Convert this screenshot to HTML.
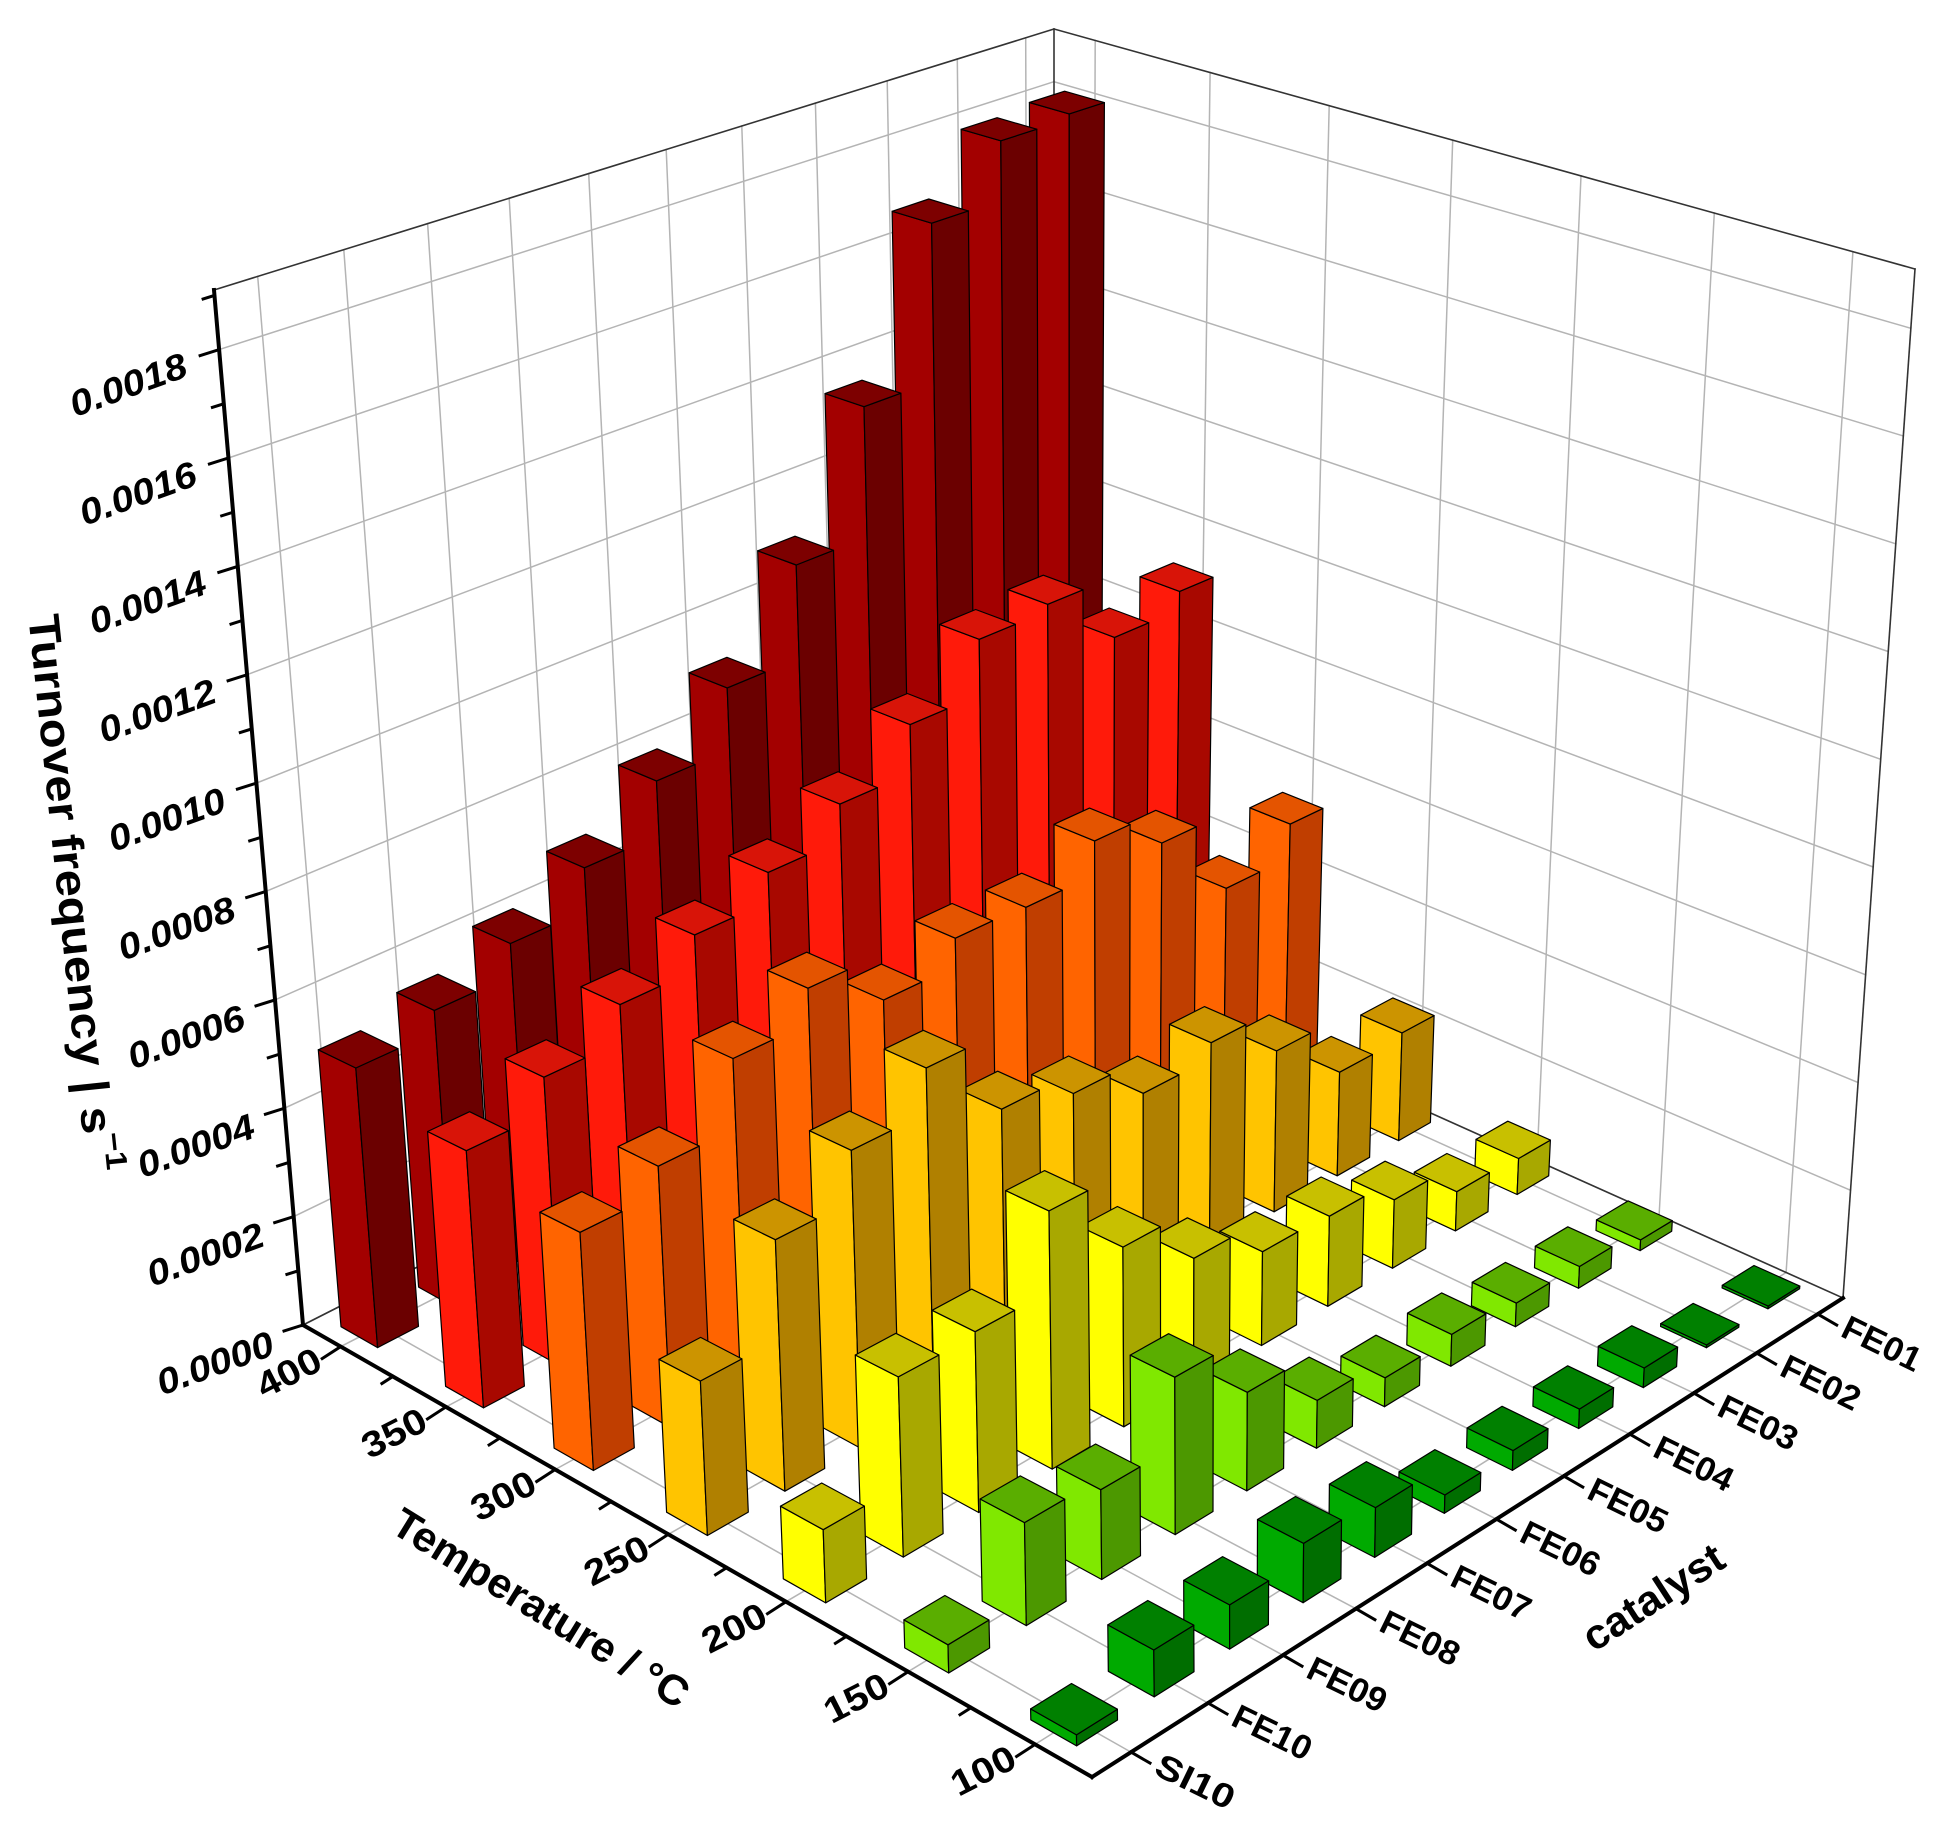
<!DOCTYPE html>
<html><head><meta charset="utf-8"><title>Turnover frequency 3D bars</title>
<style>
html,body{margin:0;padding:0;background:#fff;}
svg{display:block;font-family:"Liberation Sans",sans-serif;}
</style></head>
<body>
<svg id="chart" width="1935" height="1826" viewBox="0 0 1935 1826" xmlns="http://www.w3.org/2000/svg">
<rect width="1935" height="1826" fill="#fff"/>
<g id="grid"></g>
<g id="bars"></g>
<g id="axes"></g>
<text transform="translate(72,893) rotate(84)" text-anchor="middle" dominant-baseline="central" font-size="44" font-weight="bold" textLength="560" lengthAdjust="spacingAndGlyphs">Turnover frequency | s<tspan font-size="30" dy="-16">−1</tspan></text>
<text transform="translate(541,1608) rotate(31.7)" text-anchor="middle" dominant-baseline="central" font-size="42" font-weight="bold" textLength="340" lengthAdjust="spacingAndGlyphs">Temperature / °C</text>
<text transform="translate(1653,1597) rotate(-33)" text-anchor="middle" dominant-baseline="central" font-size="42" font-weight="bold" textLength="160" lengthAdjust="spacingAndGlyphs">catalyst</text>
</svg>
<script>
const temps = [400, 350, 300, 250, 200, 150, 100];
const catalysts = ['SI10','FE10','FE09','FE08','FE07','FE06','FE05','FE04','FE03','FE02','FE01'];
const tof400 = [0.00051,0.000549,0.000608,0.000687,0.000791,0.000911,0.001094,0.001353,0.00167,0.00179,0.0018];
const tof350 = [0.000457,0.000521,0.000587,0.000651,0.000705,0.000773,0.000866,0.000974,0.000987,0.000866,0.000903];
const tof300 = [0.000412,0.000459,0.000583,0.000645,0.00056,0.000611,0.000607,0.000672,0.000608,0.000459,0.000525];
const tof250 = [0.00026,0.00043,0.000517,0.000596,0.000458,0.000421,0.000356,0.000385,0.000305,0.000199,0.00021];
const tof200 = [0.00012,0.0003,0.000306,0.000444,0.000314,0.000226,0.000169,0.000165,0.000127,0.000074,0.000069];
const tof150 = [0.000045,0.000167,0.000148,0.000264,0.000168,0.000083,0.000051,0.000057,0.000043,0.00004,0.00002];
const tof100 = [0.000017,0.000074,0.000071,0.000097,0.000083,0.000031,0.000034,0.000034,0.000035,0.000005,0.000005];
const zTickLabels = ['0.0000','0.0002','0.0004','0.0006','0.0008','0.0010','0.0012','0.0014','0.0016','0.0018'];

const series = [tof400, tof350, tof300, tof250, tof200, tof150, tof100];
const colors = [
  ['#a30000','#6b0000','#7d0000'],
  ['#ff1a0a','#a80800','#d81408'],
  ['#ff6400','#c03e00','#e45400'],
  ['#ffc400','#b08000','#cc9400'],
  ['#ffff00','#a8a800','#c8c000'],
  ['#80e800','#4c9800','#5aae00'],
  ['#00aa00','#006e00','#008000']
];
const ZMAX = 0.00191;
const NS = 'http://www.w3.org/2000/svg';
const C = {L0:[303,1325],F0:[1092,1777],R0:[1843,1298],B0:[1054,944],
           L1:[214,290],F1:[1075,530],R1:[1915,269],B1:[1054,29]};
function fs(u){return u*0.88/(1-0.12*u);}
function gc(v){return v*1.15/(1+0.15*v);}
function uT(T){return 0.054+0.147*(400-T)/50;}
function vI(i){return 0.0455+0.0916*i;}
function bil(a,b,c,d,s,t){
  return [0,1].map(k=>(1-s)*(1-t)*a[k]+s*(1-t)*b[k]+s*t*c[k]+(1-s)*t*d[k]);
}
function proj(s,c,z){
  const p0=bil(C.L0,C.F0,C.R0,C.B0,s,c), p1=bil(C.L1,C.F1,C.R1,C.B1,s,c);
  const w=z/ZMAX;
  return [p0[0]+(p1[0]-p0[0])*w, p0[1]+(p1[1]-p0[1])*w];
}
function mk(tag,attrs,parent){const e=document.createElementNS(NS,tag);for(const k in attrs)e.setAttribute(k,attrs[k]);parent.appendChild(e);return e;}
function line(p,q,stroke,w,parent,name){
  const e=mk('line',{x1:p[0].toFixed(1),y1:p[1].toFixed(1),x2:q[0].toFixed(1),y2:q[1].toFixed(1),stroke:stroke,'stroke-width':w,'stroke-linecap':'square'},parent);
  
  
  return e;
}
const grid=document.getElementById('grid'), bars=document.getElementById('bars'), axes=document.getElementById('axes');
const GC='#b4b4b4';
temps.forEach(T=>{const s=fs(uT(T));line(proj(s,0,0),proj(s,1,0),GC,1.5,grid,'floor-grid-temp');});
catalysts.forEach((n,i)=>{const c=gc(vI(i));line(proj(0,c,0),proj(1,c,0),GC,1.5,grid,'floor-grid-catalyst');});
catalysts.forEach((n,i)=>{const c=gc(vI(i));line(proj(0,c,0),proj(0,c,ZMAX),GC,1.5,grid,'left-wall-grid-vertical');});
temps.forEach(T=>{const s=fs(uT(T));line(proj(s,1,0),proj(s,1,ZMAX),GC,1.5,grid,'right-wall-grid-vertical');});
zTickLabels.forEach(lbl=>{const z=parseFloat(lbl);
  line(proj(0,0,z),proj(0,1,z),GC,1.5,grid,'left-wall-grid-horizontal');
  line(proj(0,1,z),proj(1,1,z),GC,1.5,grid,'right-wall-grid-horizontal');});
line(proj(0,0,ZMAX),proj(0,1,ZMAX),'#333',1.6,grid,'left-wall-top-edge');
line(proj(0,1,ZMAX),proj(1,1,ZMAX),'#333',1.6,grid,'right-wall-top-edge');
line(proj(0,1,0),proj(0,1,ZMAX),'#333',1.6,grid,'back-corner-edge');
line(proj(1,1,0),proj(1,1,ZMAX),'#333',1.6,grid,'right-wall-edge');
line(proj(0,0,0),proj(0,1,0),'#333',1.6,grid,'left-wall-bottom-edge');
line(proj(0,1,0),proj(1,1,0),'#333',1.6,grid,'right-wall-bottom-edge');

const HU=0.026, HV=0.024;
const items=[];
temps.forEach((T,t)=>catalysts.forEach((n,i)=>items.push({t,i,key:fs(uT(T))-gc(vI(i))})));
items.sort((a,b)=>a.key-b.key);
function poly(pts,fill,parent,name){
  const e=mk('polygon',{points:pts.map(p=>p[0].toFixed(1)+','+p[1].toFixed(1)).join(' '),fill:fill,stroke:'#000','stroke-width':1.2,'stroke-linejoin':'round'},parent);
  
  
  return e;
}
items.forEach(({t,i})=>{
  const val=series[t][i];
  const u=uT(temps[t]), v=vI(i);
  const s0=fs(u-HU), s1=fs(u+HU), c0=gc(v-HV), c1=gc(v+HV);
  const g=mk('g',{},bars);
  
  
  const col=colors[t];
  poly([proj(s0,c0,0),proj(s1,c0,0),proj(s1,c0,val),proj(s0,c0,val)],col[0],g,'bar-left-face');
  poly([proj(s1,c0,0),proj(s1,c1,0),proj(s1,c1,val),proj(s1,c0,val)],col[1],g,'bar-right-face');
  poly([proj(s0,c0,val),proj(s1,c0,val),proj(s1,c1,val),proj(s0,c1,val)],col[2],g,'bar-top-face');
});

line(proj(0,0,0),proj(0,0,ZMAX),'#000',4,axes,'z-axis-line');
line(C.L0,C.F0,'#000',4,axes,'temperature-axis-line');
line(C.F0,C.R0,'#000',4,axes,'catalyst-axis-line');
function txt(str,x,y,rot,size,opts,name){
  const e=mk('text',{transform:'translate('+x.toFixed(1)+','+y.toFixed(1)+') rotate('+rot+')','text-anchor':'middle','dominant-baseline':'central','font-size':size,'font-weight':'bold'},axes);
  if(opts.italic)e.setAttribute('font-style','italic');
  if(opts.len){e.setAttribute('textLength',opts.len);e.setAttribute('lengthAdjust','spacingAndGlyphs');}
  e.textContent=str;
  
  
  return e;
}
for(let k=0;k<=19;k++){
  const z=k*0.0001; const p=proj(0,0,z); const len=(k%2===0)?20:12;
  line(p,[p[0]-0.95*len,p[1]+0.3*len],'#000',3,axes,'z-axis-tick');
}
zTickLabels.forEach(lbl=>{
  const z=parseFloat(lbl); const p=proj(0,0,z); const f=z/0.0018;
  txt(lbl,p[0]-88-3*f,p[1]+38-3*f,-20,36,{italic:true,len:122},'z-tick-label');
});
temps.forEach((T,t)=>{
  const p=proj(fs(uT(T)),0,0);
  line(p,[p[0]-18.5,p[1]+12],'#000',3,axes,'temperature-tick');
  txt(String(T),p[0]-52,p[1]+26,-27,36,{len:68},'temperature-tick-label');
  if(t<temps.length-1){const q=proj(fs(uT(T-25)),0,0);line(q,[q[0]-11,q[1]+7],'#000',3,axes,'temperature-minor-tick');}
});
catalysts.forEach((n,i)=>{
  const q=proj(1,gc(vI(i)),0);
  line(q,[q[0]+19,q[1]+11],'#000',3,axes,'catalyst-tick');
  txt(n,q[0]+64,q[1]+30,26,34,{len:84},'catalyst-tick-label');
});
</script>
</body></html>
